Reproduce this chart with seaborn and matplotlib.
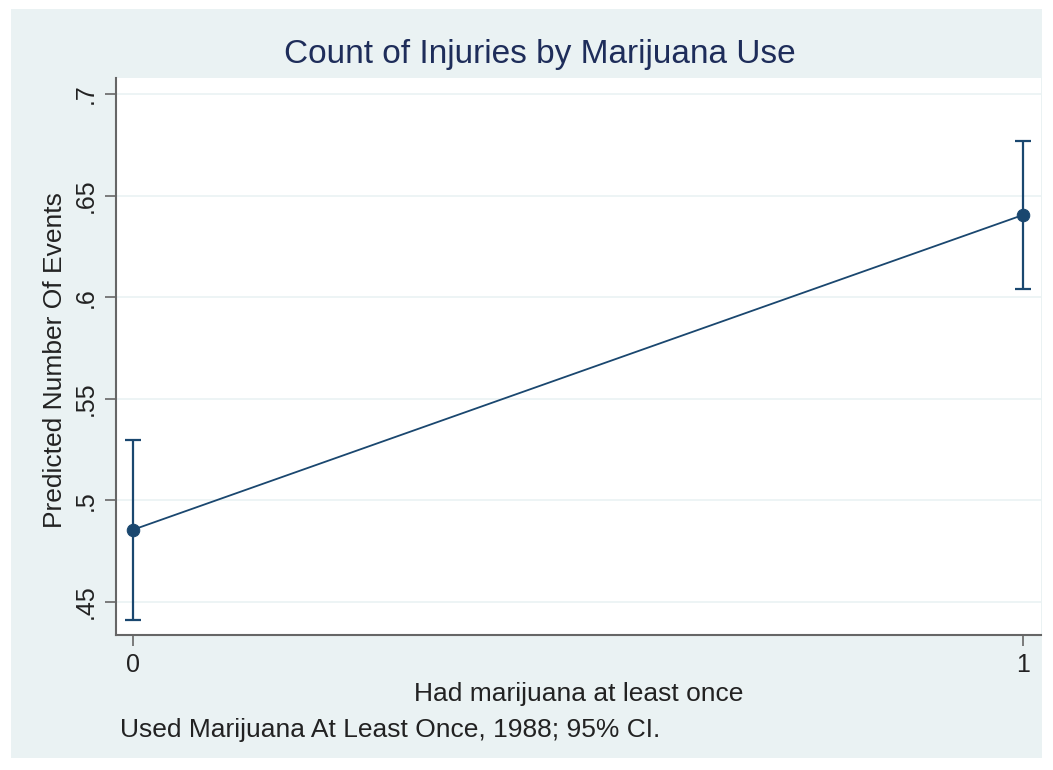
import numpy as np
import pandas as pd
import matplotlib
matplotlib.use('Agg')
import matplotlib.pyplot as plt
import seaborn as sns
from matplotlib.patches import Rectangle

# margins data (predicted number of events, 95% CI)
used_mj = [0, 1]
predicted = [0.4855, 0.6405]
ci_low = [0.4412, 0.6040]
ci_high = [0.5295, 0.6770]
y_ticks = [0.45, 0.5, 0.55, 0.6, 0.65, 0.7]
y_tick_labels = ['.45', '.5', '.55', '.6', '.65', '.7']
x_ticks = [0, 1]
x_tick_labels = ['0', '1']

navy = '#1a476f'
bg = '#eaf2f3'
txt = '#222222'

sns.set_style('white')
plt.rcParams['font.family'] = ['Liberation Sans', 'DejaVu Sans']

df = pd.DataFrame({'used': used_mj, 'pred': predicted})

fig = plt.figure(figsize=(10.53, 7.70), dpi=100)
fig.patch.set_facecolor('white')
fig.patches.append(Rectangle((11 / 1053, 1 - 758 / 770), 1031 / 1053, 749 / 770,
                             transform=fig.transFigure, facecolor=bg, edgecolor='none', zorder=-10))

ax = fig.add_axes([116 / 1053, 1 - 635 / 770, 925 / 1053, 557 / 770])
ax.set_facecolor('white')

sns.lineplot(data=df, x='used', y='pred', ax=ax, color=navy, linewidth=1.3,
             marker='o', markersize=9, markeredgecolor=navy, zorder=3)
yerr = [np.array(predicted) - np.array(ci_low), np.array(ci_high) - np.array(predicted)]
ax.errorbar(used_mj, predicted, yerr=yerr, fmt='none', ecolor=navy, elinewidth=1.6,
            capsize=5.5, capthick=1.6, zorder=2)

ax.set_xlim(-0.019, 1.02)
ax.set_ylim(0.4337, 0.7079)
ax.set_yticks(y_ticks)
ax.set_yticklabels(y_tick_labels, rotation=90, va='center', fontsize=18, color=txt)
ax.set_xticks(x_ticks)
ax.set_xticklabels(x_tick_labels, fontsize=18, color=txt)
ax.grid(axis='y', color=bg, linewidth=1.2)
ax.set_axisbelow(True)
ax.tick_params(axis='both', direction='out', length=8, width=1.2, color='#666666', pad=5,
               left=True, bottom=True)
for side in ['top', 'right']:
    ax.spines[side].set_visible(False)
for side in ['left', 'bottom']:
    ax.spines[side].set_color('#666666')
    ax.spines[side].set_linewidth(1.5)

ax.set_xlabel('Had marijuana at least once', fontsize=19, color=txt, va='center')
ax.xaxis.set_label_coords(0.5, (635 - 694) / 557)
ax.set_ylabel('Predicted Number Of Events', fontsize=19, color=txt, va='center')
ax.yaxis.set_label_coords((55 - 116) / 925, (635 - 360) / 557)

fig.text(540 / 1053, 1 - 55 / 770, 'Count of Injuries by Marijuana Use', ha='center', va='center',
         fontsize=24, color='#1e2d5a')
fig.text(120 / 1053, 1 - 730 / 770, 'Used Marijuana At Least Once, 1988; 95% CI.', ha='left',
         va='center', fontsize=19, color=txt)

fig.savefig('out.png', dpi=100)
